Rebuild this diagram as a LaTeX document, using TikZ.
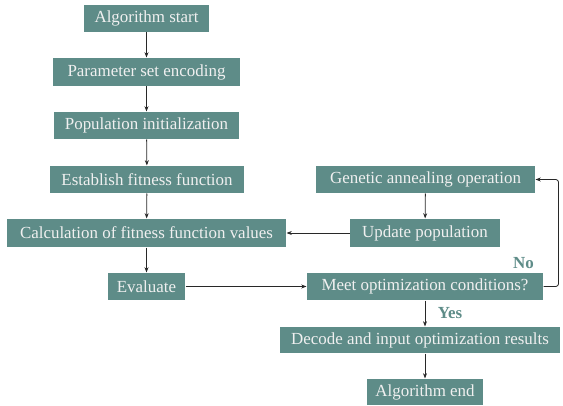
\documentclass[tikz,border=0pt]{standalone}
\usepackage{fontspec}
\setmainfont{Liberation Serif}
\usetikzlibrary{arrows.meta}
\definecolor{boxteal}{RGB}{94,140,136}
\definecolor{boxtext}{RGB}{240,240,240}
\definecolor{linegray}{RGB}{40,40,40}
\tikzset{every picture/.style={line width=0.75pt}}
\tikzset{
  stepbox/.style={fill=boxteal, draw=none, inner sep=0pt, text=boxtext,
    font=\fontsize{12.7}{14}\selectfont, minimum height=20.25pt},
  flow/.style={draw=linegray, line width=0.6pt, -{Stealth[length=4pt,width=3pt]}},
  answer/.style={text=boxteal, font=\fontsize{12.7}{14}\selectfont\bfseries, inner sep=0.75pt}
}

\begin{document}
\begin{tikzpicture}[x=0.75pt,y=0.75pt,yscale=-1,xscale=1]
\useasboundingbox (0,0) rectangle (563,406);

%Shape: Rectangle [left column]
\node [stepbox, minimum width=93.75pt] (start) at (146.5,18.5) {Algorithm start};
\node [stepbox, minimum width=140.25pt, minimum height=21pt] (encode) at (146.5,72) {Parameter set encoding};
\node [stepbox, minimum width=138.75pt] (init) at (146.5,125.5) {Population initialization};
\node [stepbox, minimum width=145.5pt] (fitness) at (147,179.5) {Establish fitness function};
\node [stepbox, minimum width=209.25pt, minimum height=21pt] (calc) at (146.5,233) {Calculation of fitness function values};
\node [stepbox, minimum width=57.75pt] (eval) at (146.5,286.5) {Evaluate};

%Shape: Rectangle [right column]
\node [stepbox, minimum width=164.25pt] (anneal) at (425.5,179.5) {Genetic annealing operation};
\node [stepbox, minimum width=112.5pt, minimum height=21pt] (update) at (425,233) {Update population};
\node [stepbox, minimum width=177pt] (meet) at (425,286.5) {Meet optimization conditions?};
\node [stepbox, minimum width=210pt, minimum height=19.5pt] (decode) at (420,340) {Decode and input optimization results};
\node [stepbox, minimum width=87pt, minimum height=19.5pt] (finish) at (425,392) {Algorithm end};

% Text Node
\node [answer] (no) at (523.5,263) {No};
\node [answer] (yes) at (450,313) {Yes};

%Straight Lines
\draw [flow] (start) -- (encode);
\draw [flow] (encode) -- (init);
\draw [flow] (init) -- (fitness);
\draw [flow] (fitness) -- (calc);
\draw [flow] (calc) -- (eval);
\draw [flow] (eval) -- (meet);
\draw [flow] (anneal) -- (update);
\draw [flow] (update) -- (calc);
\draw [flow] (meet.south) -- (meet.south |- decode.north);
\draw [flow] (meet.south |- decode.south) -- (finish.north);
\draw [flow, rounded corners=2] (meet.east) -- ++(15,0) |- (anneal.east);

\end{tikzpicture}
\end{document}
